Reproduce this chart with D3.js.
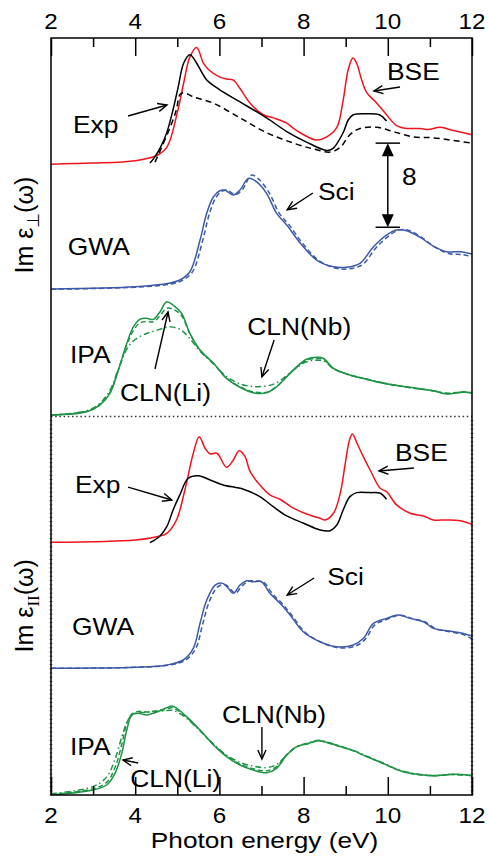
<!DOCTYPE html>
<html><head><meta charset="utf-8">
<script src="https://cdn.jsdelivr.net/npm/d3@7"></script>
<style>
body{margin:0;background:#fff}
svg{display:block}
text{font-family:"Liberation Sans",Arial,Helvetica,sans-serif;fill:#000}
</style>
</head><body>
<svg id="chart" width="489" height="860"></svg>
<script>
// ---------- axis data ----------
const xDomain = [2, 12];
const yDomain = [0, 72];          // arbitrary units, two stacked panels of 36
const xTickValues = [2,3,4,5,6,7,8,9,10,11,12];
const xTickLabels = [2,4,6,8,10,12];
const panelBase = {perp: 36, par: 0};
const curveOffset = {IPA: 0, GWA: 12, BSE: 24};
const separatorLevel = 36;

// ---------- ε⊥ panel ----------
const perpBSE_E = [2,3,4,4.5,4.75,5.0,5.15,5.3,5.46,5.62,5.74,6.0,6.17,6.33,6.49,6.73,7.04,7.28,7.6,7.76,8.0,8.3,8.55,8.79,8.94,9.06,9.17,9.26,9.38,9.5,9.74,9.97,10.2,10.45,10.77,10.96,11.24,11.56,12];
const perpBSE   = [0,0.1,0.33,0.8,1.6,4.9,7.7,10.2,11.1,9.6,9.0,8.3,8.1,8.0,7.2,5.8,4.7,4.4,3.9,3.4,2.8,2.3,2.6,3.5,6.1,9.0,10.1,9.6,8.0,6.8,5.8,4.7,3.7,3.4,3.4,3.3,3.5,3.2,2.8];
const perpExp_E = [4.35,4.45,4.6,4.75,4.9,5.02,5.15,5.3,5.46,5.7,6.0,6.5,7.12,7.6,8.07,8.55,8.7,8.94,9.06,9.18,9.5,9.8,9.97];
const perpExp   = [0.1,0.6,1.6,3.0,5.2,7.3,9.6,10.4,9.6,8.0,7.1,5.9,4.4,3.1,2.1,1.3,1.5,3.0,4.2,4.7,4.8,4.7,4.1];
const perpExp2_E = [4.47,4.6,4.83,4.98,5.06,5.15,5.38,5.86,6.49,7.12,7.76,8.23,8.63,8.87,9.1,9.34,9.74,10.13,10.6,11.08,12];
const perpExp2   = [0.2,1.35,3.5,5.2,6.6,6.8,6.4,5.8,4.4,3.0,2.0,1.45,1.15,1.6,2.8,3.4,3.5,3.1,2.6,2.5,2.0];
const perpGWA_E = [2,4,4.8,5.06,5.3,5.54,5.7,5.86,6.01,6.13,6.33,6.49,6.69,6.88,7.12,7.36,7.6,7.92,8.31,8.71,9.02,9.34,9.66,9.97,10.21,10.45,10.77,11.08,11.4,11.72,12];
const perpGWA   = [0.12,0.34,0.67,0.98,1.77,4.78,7.35,8.9,9.47,9.54,9.06,9.54,10.65,10.33,9.22,7.32,6.21,4.5,2.88,2.24,2.19,2.57,4.15,5.26,5.73,5.67,5.04,4.21,3.67,3.67,3.45];
const perpSci_E = [2,4,4.85,5.12,5.36,5.6,5.76,5.92,6.07,6.19,6.38,6.55,6.76,6.94,7.18,7.42,7.66,7.98,8.37,8.77,9.08,9.4,9.72,10.03,10.27,10.5,10.82,11.12,11.45,11.76,12];
const perpSci   = [0.1,0.3,0.6,0.95,1.75,4.7,7.25,8.85,9.45,9.5,9.1,9.6,10.95,10.55,9.3,7.35,6.2,4.45,2.8,2.1,2.05,2.45,4.05,5.2,5.75,5.7,5.0,4.1,3.5,3.4,3.2];
const perpIPA_E = [2,2.85,3.16,3.4,3.6,3.8,3.96,4.11,4.27,4.43,4.59,4.75,4.9,5.1,5.3,5.54,5.86,6.17,6.49,6.8,7.12,7.36,7.6,7.84,8.07,8.31,8.47,8.71,9.1,9.5,9.89,10.29,10.69,11.08,11.4,11.8,12];
const perpIPA   = [0.14,0.46,1.09,2.2,4.42,6.96,8.54,9.24,9.34,9.24,9.97,10.92,10.6,9.82,7.91,6.32,5.06,3.63,2.78,2.26,2.26,2.83,3.79,4.74,5.44,5.63,5.54,4.58,3.95,3.54,3.16,2.9,2.68,2.45,2.14,2.33,2.21];
const perpCLNLi = [0.14,0.5,1.15,2.3,4.4,6.8,8.2,8.9,9.05,9.0,9.6,10.3,10.2,9.6,7.85,6.3,5.05,3.65,2.82,2.35,2.3,2.85,3.8,4.7,5.35,5.5,5.45,4.55,3.95,3.55,3.18,2.9,2.65,2.45,2.2,2.35,2.25];
const perpCLNNb = [0.14,0.55,1.25,2.5,4.5,6.4,7.2,7.6,7.9,8.1,8.3,8.5,8.5,8.2,7.4,6.2,5.0,3.8,3.1,2.85,2.9,3.2,3.9,4.65,5.2,5.35,5.3,4.55,3.95,3.55,3.2,2.9,2.65,2.45,2.2,2.3,2.2];

// ---------- ε∥ panel ----------
const parBSE_E = [2,4,4.51,4.75,4.98,5.18,5.38,5.52,5.66,5.78,5.94,6.17,6.33,6.47,6.61,6.73,6.96,7.2,7.44,7.76,8.07,8.39,8.51,8.71,8.87,8.99,9.09,9.16,9.27,9.38,9.58,9.82,9.97,10.21,10.53,10.85,11.08,11.4,11.72,12];
const parBSE   = [0.04,0.26,0.57,0.89,2.16,5.01,8.5,10.08,8.98,8.44,8.5,7.17,7.87,8.75,8.18,6.75,5.49,4.54,4.13,3.28,2.73,2.32,2.16,2.8,4.7,7.55,9.77,10.34,9.45,8.5,6.91,5.17,4.85,3.59,2.8,2.54,2.16,2.16,2.09,1.75];
const parExp_E = [4.35,4.59,4.75,4.9,5.06,5.26,5.5,5.78,6.09,6.57,6.96,7.28,7.6,8.0,8.39,8.63,8.79,8.94,9.1,9.26,9.58,9.82,9.97];
const parExp   = [0.0,0.64,1.52,3.11,4.54,6.13,6.37,5.96,5.49,5.08,4.38,3.42,2.54,1.85,1.21,1.14,1.68,3.11,4.38,4.76,4.76,4.7,4.13];
const parGWA_E = [2,4,4.75,5.14,5.38,5.54,5.7,5.9,6.08,6.21,6.33,6.49,6.65,6.8,7.0,7.2,7.44,7.68,7.99,8.39,8.79,9.18,9.42,9.66,9.97,10.25,10.53,10.85,11.08,11.4,11.72,12];
const parGWA   = [0.05,0.14,0.36,0.84,1.95,4.33,6.54,7.97,8.13,7.66,7.18,7.97,8.38,8.28,8.28,7.18,6.23,5.12,3.53,2.58,2.1,2.26,2.9,4.33,4.8,5.12,4.8,4.48,3.85,3.62,3.43,3.12];
const parSci_E = [2,4,4.8,5.2,5.44,5.6,5.76,5.96,6.14,6.26,6.38,6.54,6.7,6.85,7.05,7.25,7.48,7.72,8.03,8.43,8.83,9.22,9.46,9.7,10.01,10.29,10.57,10.89,11.12,11.44,11.76,12];
const parSci   = [0.05,0.14,0.36,0.84,1.95,4.2,6.4,7.8,8.0,7.6,7.2,7.9,8.35,8.35,8.25,7.2,6.25,5.1,3.5,2.5,2.0,2.15,2.8,4.2,4.75,5.1,4.8,4.45,3.85,3.55,3.3,2.85];
const parIPA_E = [2,3.0,3.32,3.52,3.68,3.8,3.92,4.07,4.27,4.47,4.67,4.87,4.99,5.22,5.54,5.86,6.17,6.49,6.8,7.12,7.36,7.6,7.84,8.07,8.35,8.63,8.87,9.18,9.5,9.89,10.29,10.69,11.08,11.56,12];
const parIPA   = [0,0.48,0.95,2.06,3.96,6.18,7.61,7.77,7.61,7.83,8.15,8.47,8.25,7.45,6.18,4.76,3.65,2.85,2.38,2.12,2.54,3.8,4.6,4.85,5.17,4.92,4.6,4.22,3.65,3.01,2.31,1.97,1.84,1.97,1.84];
const parCLNLi = [0.05,0.6,1.2,2.6,4.8,6.8,7.7,7.95,7.9,8.0,8.1,8.3,8.1,7.4,6.15,4.8,3.7,2.95,2.5,2.3,2.7,3.85,4.6,4.85,5.15,4.9,4.6,4.2,3.65,3.0,2.3,1.97,1.84,1.95,1.84];
const parCLNNb = [0.1,0.8,1.7,3.4,5.5,6.9,7.6,7.85,7.85,7.95,8.0,8.05,7.9,7.3,6.1,4.85,3.8,3.1,2.75,2.6,2.9,3.8,4.6,4.9,5.2,4.95,4.65,4.25,3.7,3.05,2.35,2.0,1.85,1.95,1.85];

// ---------- styles ----------
const RED = "#f0141e", BLUE = "#3d5aa8", GREEN = "#1f9446", BLACK = "#000";
const DASH = "6,4", DASH_S = "5,3", DASHDOT = "6,3,1.5,3";

// series table built from the arrays above
const series = [
  {E: perpIPA_E, v: perpCLNNb, base: panelBase.perp + curveOffset.IPA, color: GREEN, dash: DASHDOT},
  {E: perpIPA_E, v: perpCLNLi, base: panelBase.perp + curveOffset.IPA, color: GREEN, dash: DASH_S},
  {E: perpIPA_E, v: perpIPA,   base: panelBase.perp + curveOffset.IPA, color: GREEN, dash: null},
  {E: perpSci_E, v: perpSci,   base: panelBase.perp + curveOffset.GWA, color: BLUE, dash: DASH_S},
  {E: perpGWA_E, v: perpGWA,   base: panelBase.perp + curveOffset.GWA, color: BLUE, dash: null},
  {E: perpBSE_E, v: perpBSE,   base: panelBase.perp + curveOffset.BSE, color: RED, dash: null},
  {E: perpExp2_E, v: perpExp2, base: panelBase.perp + curveOffset.BSE, color: BLACK, dash: DASH},
  {E: perpExp_E, v: perpExp,   base: panelBase.perp + curveOffset.BSE, color: BLACK, dash: null},
  {E: parIPA_E, v: parCLNNb, base: panelBase.par + curveOffset.IPA, color: GREEN, dash: DASHDOT},
  {E: parIPA_E, v: parCLNLi, base: panelBase.par + curveOffset.IPA, color: GREEN, dash: DASH_S},
  {E: parIPA_E, v: parIPA,   base: panelBase.par + curveOffset.IPA, color: GREEN, dash: null},
  {E: parSci_E, v: parSci,   base: panelBase.par + curveOffset.GWA, color: BLUE, dash: DASH_S},
  {E: parGWA_E, v: parGWA,   base: panelBase.par + curveOffset.GWA, color: BLUE, dash: null},
  {E: parBSE_E, v: parBSE,   base: panelBase.par + curveOffset.BSE, color: RED, dash: null},
  {E: parExp_E, v: parExp,   base: panelBase.par + curveOffset.BSE, color: BLACK, dash: null}
];

// annotations in data coordinates [E, level]
const texts = [
  {t: "Exp", p: [2.52, 62.96]}, {t: "BSE", p: [9.98, 68.0]}, {t: "8", p: [10.34, 58.0]},
  {t: "Sci", p: [8.34, 56.6]}, {t: "GWA", p: [2.4, 51.36]}, {t: "IPA", p: [2.45, 41.09]},
  {t: "CLN(Li)", p: [3.64, 37.47]}, {t: "CLN(Nb)", p: [6.66, 43.75]},
  {t: "Exp", p: [2.57, 28.72]}, {t: "BSE", p: [10.17, 31.77]}, {t: "Sci", p: [8.56, 19.97]},
  {t: "GWA", p: [2.5, 15.22]}, {t: "IPA", p: [2.45, 3.8]}, {t: "CLN(Li)", p: [3.88, 0.76]},
  {t: "CLN(Nb)", p: [6.06, 6.85]}
];
const arrows = [
  {from: [3.83, 64.58], to: [4.755, 65.63]},
  {from: [10.29, 67.34], to: [9.67, 66.96]},
  {from: [8.22, 57.26], to: [7.61, 55.66]},
  {from: [4.47, 40.52], to: [4.78, 45.94]},
  {from: [7.3, 43.28], to: [7.01, 39.76]},
  {from: [3.83, 29.29], to: [4.87, 28.06]},
  {from: [10.62, 31.1], to: [9.79, 30.82]},
  {from: [8.25, 20.64], to: [7.61, 19.02]},
  {from: [4.07, 3.04], to: [3.71, 3.33]},
  {from: [7.01, 6.47], to: [7.01, 3.42]}
];
const scaleBar = {E: 10.0, from: 54, to: 62, capHalf: 0.29};

// ---------- drawing ----------
const svg = d3.select("#chart");
const M = {left: 51, right: 472, top: 38, bottom: 795};
const x = d3.scaleLinear().domain(xDomain).range([M.left, M.right]);
const y = d3.scaleLinear().domain(yDomain).range([M.bottom, M.top]);

const clip = svg.append("clipPath").attr("id", "clip").append("rect")
  .attr("x", M.left).attr("y", M.top).attr("width", M.right - M.left).attr("height", M.bottom - M.top);

// separator
svg.append("line").attr("x1", x(2)).attr("x2", x(12)).attr("y1", y(separatorLevel)).attr("y2", y(separatorLevel))
  .attr("stroke", "#333").attr("stroke-width", 1.5).attr("stroke-dasharray", "1.5,2.7");

// minor ticks on lower panel edges
const minor = d3.range(0, separatorLevel, 0.4);
[x(2), x(12)].forEach(px => {
  svg.append("g").selectAll("line").data(minor).join("line")
    .attr("x1", px - 1.5).attr("x2", px + 1.5).attr("y1", d => y(d)).attr("y2", d => y(d))
    .attr("stroke", "#555").attr("stroke-width", 0.8);
});

// curves
const line = d3.line().curve(d3.curveCatmullRom.alpha(0.5));
const gCurves = svg.append("g").attr("clip-path", "url(#clip)");
series.forEach(s => {
  const pts = s.E.map((e, i) => [x(e), y(s.base + s.v[i])]);
  gCurves.append("path").attr("d", line(pts)).attr("fill", "none")
    .attr("stroke", s.color).attr("stroke-width", 1.5)
    .attr("stroke-dasharray", s.dash);
});

// frame
svg.append("rect").attr("x", M.left).attr("y", M.top).attr("width", M.right - M.left).attr("height", M.bottom - M.top)
  .attr("fill", "none").attr("stroke", "#000").attr("stroke-width", 1.5);

// axes (ticks inward)
const tickLen = d => (d % 2 === 0 ? 18 : 9);
const axTop = d3.axisTop(x).tickValues(xTickValues).tickSize(0).tickFormat("");
const axBot = d3.axisBottom(x).tickValues(xTickValues).tickSize(0).tickFormat("");
const gTop = svg.append("g").attr("transform", `translate(0,${M.top})`).call(axTop);
const gBot = svg.append("g").attr("transform", `translate(0,${M.bottom})`).call(axBot);
[gTop, gBot].forEach(g => g.select(".domain").remove());
gTop.selectAll(".tick line").attr("y2", d => tickLen(d)).attr("stroke", "#000").attr("stroke-width", 1.5);
gBot.selectAll(".tick line").attr("y2", d => -tickLen(d)).attr("stroke", "#000").attr("stroke-width", 1.5);

const SX_TICK = 1.1;
xTickLabels.forEach(v => {
  svg.append("text").attr("transform", `translate(${x(v)},29) scale(${SX_TICK},1)`)
    .attr("text-anchor", "middle").attr("font-size", 22).text(v);
  svg.append("text").attr("transform", `translate(${x(v)},823) scale(${SX_TICK},1)`)
    .attr("text-anchor", "middle").attr("font-size", 22).text(v);
});

// x title
svg.append("text").attr("transform", `translate(${(M.left + M.right) / 2 + 3},848) scale(1.22,1)`)
  .attr("text-anchor", "middle").attr("font-size", 21.5).text("Photon energy (eV)");

// y titles
function yTitle(cy, sub, subFont) {
  const t = svg.append("text").attr("transform", `translate(33,${cy}) rotate(-90)`)
    .attr("text-anchor", "middle").attr("font-size", 25);
  t.append("tspan").text("Im ε");
  t.append("tspan").attr("dy", 6).attr("font-size", 17).attr("font-family", subFont).text(sub);
  t.append("tspan").attr("dy", -6).text("(ω)");
}
yTitle(y(panelBase.perp + 18.2), "⊥", "DejaVu Sans");
yTitle(y(panelBase.par + 18), "II", "Liberation Serif");

// annotation texts
const SX = 1.1;
texts.forEach(a => {
  svg.append("text").attr("transform", `translate(${x(a.p[0])},${y(a.p[1])}) scale(${SX},1)`)
    .attr("font-size", 24).text(a.t);
});

// open arrows
function openArrow(p0, p1) {
  const [x0, y0] = [x(p0[0]), y(p0[1])], [x1, y1] = [x(p1[0]), y(p1[1])];
  const ang = Math.atan2(y1 - y0, x1 - x0), L = 10, w = 0.42;
  svg.append("line").attr("x1", x0).attr("y1", y0).attr("x2", x1).attr("y2", y1)
    .attr("stroke", "#000").attr("stroke-width", 1.4);
  const pts = [[x1 - L * Math.cos(ang - w), y1 - L * Math.sin(ang - w)], [x1, y1],
               [x1 - L * Math.cos(ang + w), y1 - L * Math.sin(ang + w)]];
  svg.append("path").attr("d", d3.line()(pts)).attr("fill", "none").attr("stroke", "#000").attr("stroke-width", 1.4);
}
arrows.forEach(a => openArrow(a.from, a.to));

// scale bar (double arrow "8")
{
  const bx = x(scaleBar.E), yT = y(scaleBar.to), yB = y(scaleBar.from);
  const cl = x(scaleBar.E - scaleBar.capHalf), cr = x(scaleBar.E + scaleBar.capHalf);
  svg.append("line").attr("x1", bx).attr("x2", bx).attr("y1", yT + 10).attr("y2", yB - 10)
    .attr("stroke", "#000").attr("stroke-width", 1.5);
  [yT, yB].forEach(yy => svg.append("line").attr("x1", cl).attr("x2", cr).attr("y1", yy).attr("y2", yy)
    .attr("stroke", "#000").attr("stroke-width", 1.5));
  svg.append("path").attr("d", `M${bx},${yT} L${bx - 6},${yT + 13} L${bx + 6},${yT + 13} Z`).attr("fill", "#000");
  svg.append("path").attr("d", `M${bx},${yB} L${bx - 6},${yB - 13} L${bx + 6},${yB - 13} Z`).attr("fill", "#000");
}
</script>
</body></html>
